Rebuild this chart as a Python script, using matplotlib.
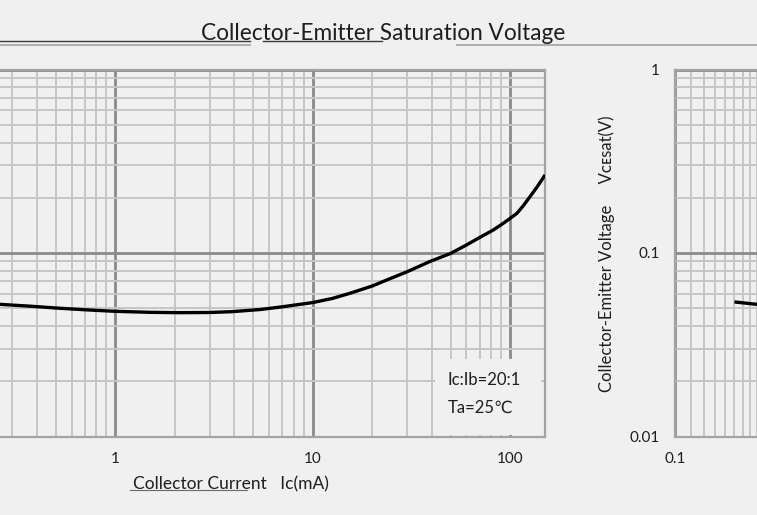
import matplotlib
matplotlib.use("Agg")
import matplotlib.pyplot as plt
from matplotlib.ticker import FixedLocator, FixedFormatter, LogLocator, NullFormatter
from matplotlib.patches import Rectangle
from matplotlib.lines import Line2D

# ---- data ----
ic_ma = [0.2, 0.26, 0.37, 0.52, 0.74, 1.0, 1.5, 2.1, 3.0, 3.9, 5.4, 7.0, 10,
         12.6, 15.4, 20, 23.7, 30, 39, 50, 60, 70, 82, 92, 100, 108, 116, 126, 137, 150]
vce_v = [0.0541, 0.0525, 0.0513, 0.0500, 0.0489, 0.0481, 0.0475, 0.0473, 0.0474,
         0.0479, 0.0492, 0.0509, 0.0537, 0.0566, 0.0603, 0.0661, 0.0713, 0.0790,
         0.0897, 0.0996, 0.1106, 0.1215, 0.1334, 0.1450, 0.1545, 0.1644, 0.180,
         0.203, 0.2297, 0.266]

x_tick_vals = [0.1, 1, 10, 100]
x_tick_labels = ["0.1", "1", "10", "100"]
y_tick_vals = [0.01, 0.1, 1]
y_tick_labels = ["0.01", "0.1", "1"]

title = "Collector-Emitter Saturation Voltage"
xlabel = "Collector Current   Ic(mA)"
ylabel = "Collector-Emitter Voltage     Vᴄᴇsat(V)"
note1 = "Ic:Ib=20:1"
note2 = "Ta=25℃"

xmin, xmax = 0.1, 150
ymin, ymax = 0.01, 1
split = 0.2601   # value where the scanned image wraps around

BG = "#f0f0f0"
MINOR = "#c6c6c6"
MAJOR = "#8a8a8a"
SPINE = "#a3a3a3"
TXT = "#1e1e1e"
FONT = ["Lato", "DejaVu Sans"]
plt.rcParams["font.family"] = FONT

W, H = 757, 515
fig = plt.figure(figsize=(W / 100, H / 100), dpi=100, facecolor=BG)

top_px, bot_px = 69.5, 436.5

def frac_rect(x0, x1):
    return [x0 / W, 1 - bot_px / H, (x1 - x0) / W, (bot_px - top_px) / H]

axA = fig.add_axes(frac_rect(0, 545))
axB = fig.add_axes(frac_rect(675, 757))

for ax in (axA, axB):
    ax.set_facecolor(BG)
    ax.set_xscale("log")
    ax.set_yscale("log")
    ax.set_ylim(ymin, ymax)
    ax.xaxis.set_major_locator(FixedLocator(x_tick_vals))
    ax.yaxis.set_major_locator(FixedLocator(y_tick_vals))
    ax.xaxis.set_minor_locator(LogLocator(base=10, subs=range(2, 10), numticks=20))
    ax.yaxis.set_minor_locator(LogLocator(base=10, subs=range(2, 10), numticks=20))
    ax.xaxis.set_minor_formatter(NullFormatter())
    ax.yaxis.set_minor_formatter(NullFormatter())
    ax.grid(which="minor", color=MINOR, lw=1.4, zorder=0)
    ax.grid(which="major", color=MAJOR, lw=2.0, zorder=0)
    ax.tick_params(which="both", length=0, labelsize=11, colors=TXT, pad=11)
    for s in ax.spines.values():
        s.set_color(SPINE)
        s.set_linewidth(1.6)
    ax.plot(ic_ma, vce_v, color="black", lw=2.4, zorder=3,
            solid_joinstyle="round", solid_capstyle="butt")

axA.set_xlim(split, xmax)
axB.set_xlim(xmin, split)

axA.xaxis.set_major_formatter(FixedFormatter(x_tick_labels))
axA.yaxis.set_major_formatter(NullFormatter())
axA.spines["left"].set_visible(False)

axB.xaxis.set_major_formatter(FixedFormatter(x_tick_labels))
axB.yaxis.set_major_formatter(FixedFormatter(y_tick_labels))
axB.spines["right"].set_visible(False)

# condition box
axA.add_patch(Rectangle((0.798, 0.003), 0.195, 0.207, transform=axA.transAxes,
                        facecolor=BG, edgecolor="none", zorder=2))
axA.text(0.822, 0.154, note1, transform=axA.transAxes, fontsize=12, color=TXT,
         va="center", ha="left", zorder=4)
axA.text(0.822, 0.078, note2, transform=axA.transAxes, fontsize=12, color=TXT,
         va="center", ha="left", zorder=4)

# titles / labels
fig.text(383 / W, 1 - 40 / H, title, fontsize=16.3, color=TXT, ha="center", va="baseline")
fig.text(133 / W, 1 - 489 / H, xlabel, fontsize=12.5, color=TXT, ha="left", va="baseline")
fig.text(607 / W, 1 - 253.5 / H, ylabel, fontsize=12, color=TXT, ha="center",
         va="center", rotation=90)

# scan artefact lines
def hline(y, x0, x1, color, lw):
    fig.add_artist(Line2D([x0 / W, x1 / W], [1 - y / H, 1 - y / H], color=color, lw=lw,
                          transform=fig.transFigure))

hline(41, 0, 250, "#3a3a3a", 1.0)
hline(41, 263, 382, "#3a3a3a", 1.0)
hline(45, 0, 250, "#a8a8a8", 1.3)
hline(45, 457, 757, "#a8a8a8", 1.3)
hline(490, 130, 247, "#6a6a6a", 0.8)

fig.savefig("out.png", dpi=100, facecolor=BG)
